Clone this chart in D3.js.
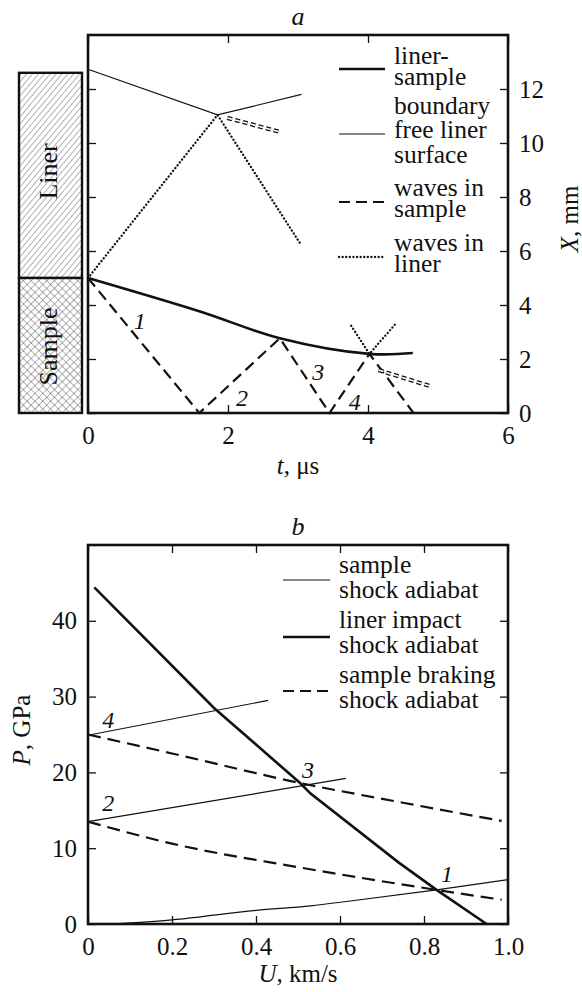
<!DOCTYPE html>
<html><head><meta charset="utf-8">
<script src="https://cdn.jsdelivr.net/npm/d3@7"></script>
<style>
body{margin:0;background:#fff;}
svg text{font-family:"Liberation Serif","Times New Roman",serif;}
</style></head>
<body><svg id="c" width="582" height="992"></svg>
<script>
// ---------- Panel a data (t, µs ; X, mm) ----------
const tTicks = [0, 2, 4, 6];
const xmmTicks = [0, 2, 4, 6, 8, 10, 12];
const boundaryLine = [[0,5],[1.6,3.76],[2.74,2.77],[4.02,2.19],[4.64,2.22]];
const freeSurface = [[0,12.73],[1.85,11.04],[3.05,11.8]];
const wavesSample = [[0,5],[1.59,0],[2.74,2.77],[3.45,0],[4.02,2.19],[4.65,0]];
const wavesLinerA = [[0,5],[1.85,11.04],[3.05,6.2]];
const wavesLinerB = [[3.76,3.23],[4.02,2.19],[4.39,3.29]];
const releaseA = [[1.99,10.93],[2.74,10.41]];
const releaseB = [[4.15,1.59],[4.88,1.0]];
const labelsA = [["1",0.74,3.44],["2",2.2,0.56],["3",3.29,1.52],["4",3.81,0.41]];
const blockLiner = [5, 12.6];
const blockSample = [0, 5];
const legendA = [
  {lines:["liner-","sample","boundary"], style:"thick"},
  {lines:["free liner","surface"], style:"thin"},
  {lines:["waves in","sample"], style:"dash"},
  {lines:["waves in","liner"], style:"dot"}
];
// ---------- Panel b data (U, km/s ; P, GPa) ----------
const uTicks = [0, 0.2, 0.4, 0.6, 0.8, 1.0];
const pTicks = [0, 10, 20, 30, 40];
const sampleAdiabat0 = [[0.06,0],[0.2,0.55],[0.4,1.8],[0.53,2.4],[0.62,3.0],[0.83,4.5],[1.0,5.85]];
const sampleAdiabat2 = [[0,13.5],[0.614,19.2]];
const sampleAdiabat4 = [[0,24.9],[0.429,29.5]];
const linerAdiabat = [[0.015,44.4],[0.3,28.5],[0.505,18.6],[0.53,17.2],[0.74,8.1],[0.83,4.5],[0.949,0]];
const brakingAdiabat1 = [[0,13.5],[0.2,10.6],[0.5,7.5],[0.83,4.5],[0.985,3.2]];
const brakingAdiabat2 = [[0,25],[0.2,22.5],[0.505,18.6],[0.75,16.0],[0.985,13.6]];
const labelsB = [["4",0.048,26.9],["2",0.048,16.0],["3",0.524,20.4],["1",0.855,6.7]];
const legendB = [
  {lines:["sample","shock adiabat"], style:"thin"},
  {lines:["liner impact","shock adiabat"], style:"thick"},
  {lines:["sample braking","shock adiabat"], style:"dash"}
];

const svg = d3.select("#c");
const FS = 25;
const styles = {
  thick:{w:2.6, dash:null},
  thin:{w:1.2, dash:null},
  dash:{w:2.2, dash:"11,6"},
  dot:{w:2.3, dash:"0.1,3.5"}
};
function applyStyle(sel, st){
  const s = styles[st];
  sel.attr("fill","none").attr("stroke","#111").attr("stroke-width",s.w);
  if (s.dash) sel.attr("stroke-dasharray", s.dash);
  if (st==="dot") sel.attr("stroke-linecap","round");
  return sel;
}

const defs = svg.append("defs");
const ph = defs.append("pattern").attr("id","hatch").attr("patternUnits","userSpaceOnUse")
  .attr("width",4.5).attr("height",4.5).attr("patternTransform","rotate(40)");
ph.append("rect").attr("width",4.5).attr("height",4.5).attr("fill","#fff");
ph.append("line").attr("x1",0).attr("y1",0).attr("x2",0).attr("y2",4.5).attr("stroke","#555").attr("stroke-width",0.9);
const px = defs.append("pattern").attr("id","cross").attr("patternUnits","userSpaceOnUse")
  .attr("width",5.5).attr("height",5.5).attr("patternTransform","rotate(45)");
px.append("rect").attr("width",5.5).attr("height",5.5).attr("fill","#fff");
px.append("line").attr("x1",0).attr("y1",0).attr("x2",0).attr("y2",5.5).attr("stroke","#555").attr("stroke-width",0.9);
px.append("line").attr("x1",0).attr("y1",0).attr("x2",5.5).attr("y2",0).attr("stroke","#555").attr("stroke-width",0.9);

function frame(g, x, y, xt, yt, opts){
  const [x0,x1] = x.range(), [y0,y1] = y.range();
  const tk = 8;
  const ab = d3.axisBottom(x).tickValues(xt).tickSize(-tk).tickPadding(13).tickFormat(opts.xfmt);
  g.append("g").attr("transform",`translate(0,${y0})`).call(ab);
  const at = d3.axisTop(x).tickValues(xt).tickSize(-tk).tickFormat("");
  g.append("g").attr("transform",`translate(0,${y1})`).call(at);
  const al = d3.axisLeft(y).tickValues(yt).tickSize(-tk).tickPadding(11).tickFormat(opts.leftLabels?opts.yfmt:"");
  g.append("g").attr("transform",`translate(${x0},0)`).call(al);
  const ar = d3.axisRight(y).tickValues(yt).tickSize(-tk).tickPadding(11).tickFormat(opts.leftLabels?"":opts.yfmt);
  g.append("g").attr("transform",`translate(${x1},0)`).call(ar);
  g.selectAll(".domain").remove();
  g.selectAll(".tick line").attr("stroke","#111").attr("stroke-width",1.3);
  g.selectAll(".tick text").attr("font-size",FS).attr("fill","#111");
  g.append("rect").attr("x",x0).attr("y",y1).attr("width",x1-x0).attr("height",y0-y1)
    .attr("fill","none").attr("stroke","#111").attr("stroke-width",2.6);
}
const line = (x,y) => d3.line().x(d=>x(d[0])).y(d=>y(d[1]));
const smooth = (x,y) => d3.line().curve(d3.curveMonotoneX).x(d=>x(d[0])).y(d=>y(d[1]));
const spline = (x,y) => d3.line().curve(d3.curveCatmullRom.alpha(0.5)).x(d=>x(d[0])).y(d=>y(d[1]));

// ================= Panel a =================
const xa = d3.scaleLinear().domain([0,6]).range([88,508]);
const ya = d3.scaleLinear().domain([0,14]).range([413,35]);
const ga = svg.append("g");

ga.append("rect").attr("x",19).attr("y",ya(blockLiner[1])).attr("width",63).attr("height",ya(blockLiner[0])-ya(blockLiner[1]))
  .attr("fill","url(#hatch)").attr("stroke","#111").attr("stroke-width",2.4);
ga.append("rect").attr("x",19).attr("y",ya(blockSample[1])).attr("width",63).attr("height",ya(blockSample[0])-ya(blockSample[1]))
  .attr("fill","url(#cross)").attr("stroke","#111").attr("stroke-width",2.4);
ga.append("text").attr("transform",`translate(57,${(ya(blockLiner[0])+ya(blockLiner[1]))/2 - 4}) rotate(-90)`)
  .attr("text-anchor","middle").attr("font-size",26).attr("fill","#111").text("Liner");
ga.append("text").attr("transform",`translate(57,${(ya(blockSample[0])+ya(blockSample[1]))/2+1}) rotate(-90)`)
  .attr("text-anchor","middle").attr("font-size",26).attr("fill","#111").text("Sample");

frame(ga, xa, ya, tTicks, xmmTicks, {xfmt:d3.format("d"), yfmt:d3.format("d"), leftLabels:false});

applyStyle(ga.append("path").attr("d", line(xa,ya)(freeSurface)), "thin");
applyStyle(ga.append("path").attr("d", line(xa,ya)(wavesLinerA)), "dot");
applyStyle(ga.append("path").attr("d", line(xa,ya)(wavesLinerB)), "dot");
applyStyle(ga.append("path").attr("d", line(xa,ya)(wavesSample)), "dash");
applyStyle(ga.append("path").attr("d", spline(xa,ya)(boundaryLine)), "thick");
[releaseA, releaseB].forEach(r=>{
  ga.append("path").attr("d", line(xa,ya)(r)).attr("stroke","#111").attr("stroke-width",4.2).attr("stroke-dasharray","5,3").attr("fill","none");
  ga.append("path").attr("d", line(xa,ya)(r)).attr("stroke","#fff").attr("stroke-width",1.6).attr("stroke-dasharray","5,3").attr("fill","none");
});
labelsA.forEach(l=>{
  ga.append("text").attr("x",xa(l[1])).attr("y",ya(l[2])).attr("dy","0.35em").attr("text-anchor","middle")
    .attr("font-size",24).attr("font-style","italic").attr("fill","#111").text(l[0]);
});
const legAY = [64, 138, 196, 251];
const legALineY = [69, 134, 202, 257];
const legASpacing = [[0,21,50],[0,25],[0,21],[0,21]];
legendA.forEach((it,i)=>{
  applyStyle(ga.append("line").attr("x1",339).attr("x2",385).attr("y1",legALineY[i]).attr("y2",legALineY[i]), it.style);
  it.lines.forEach((t,j)=>{
    ga.append("text").attr("x",394).attr("y",legAY[i]+legASpacing[i][j]).attr("font-size",25.5).attr("fill","#111").text(t);
  });
});
ga.append("text").attr("x",298).attr("y",25).attr("text-anchor","middle").attr("font-size",26).attr("font-style","italic").attr("fill","#111").text("a");
const tl = ga.append("text").attr("x",298).attr("y",474).attr("text-anchor","middle").attr("font-size",25).attr("fill","#111");
tl.append("tspan").attr("font-style","italic").text("t");
tl.append("tspan").text(", μs");
const xl = ga.append("text").attr("transform","translate(578,219) rotate(-90)").attr("text-anchor","middle").attr("font-size",25).attr("fill","#111");
xl.append("tspan").attr("font-style","italic").text("X");
xl.append("tspan").text(", mm");

// ================= Panel b =================
const xb = d3.scaleLinear().domain([0,1]).range([88,508]);
const yb = d3.scaleLinear().domain([0,50]).range([924,545]);
const gb = svg.append("g");
frame(gb, xb, yb, uTicks, pTicks, {xfmt:d=> d===0?"0":d3.format(".1f")(d), yfmt:d3.format("d"), leftLabels:true});
applyStyle(gb.append("path").attr("d", smooth(xb,yb)(sampleAdiabat0)), "thin");
applyStyle(gb.append("path").attr("d", line(xb,yb)(sampleAdiabat2)), "thin");
applyStyle(gb.append("path").attr("d", line(xb,yb)(sampleAdiabat4)), "thin");
applyStyle(gb.append("path").attr("d", smooth(xb,yb)(brakingAdiabat1)), "dash").attr("stroke-dasharray","13,7");
applyStyle(gb.append("path").attr("d", smooth(xb,yb)(brakingAdiabat2)), "dash").attr("stroke-dasharray","13,7");
applyStyle(gb.append("path").attr("d", line(xb,yb)(linerAdiabat)), "thick");
labelsB.forEach(l=>{
  gb.append("text").attr("x",xb(l[1])).attr("y",yb(l[2])).attr("dy","0.35em").attr("text-anchor","middle")
    .attr("font-size",24).attr("font-style","italic").attr("fill","#111").text(l[0]);
});
const legBY = [573, 628, 683];
const legBLineY = [580, 637, 691];
legendB.forEach((it,i)=>{
  applyStyle(gb.append("line").attr("x1",283).attr("x2",330).attr("y1",legBLineY[i]).attr("y2",legBLineY[i]), it.style);
  it.lines.forEach((t,j)=>{
    gb.append("text").attr("x",339).attr("y",legBY[i]+j*25).attr("font-size",25.5).attr("fill","#111").text(t);
  });
});
gb.append("text").attr("x",298).attr("y",535).attr("text-anchor","middle").attr("font-size",26).attr("font-style","italic").attr("fill","#111").text("b");
const ul = gb.append("text").attr("x",298).attr("y",982).attr("text-anchor","middle").attr("font-size",25).attr("fill","#111");
ul.append("tspan").attr("font-style","italic").text("U");
ul.append("tspan").text(", km/s");
const pl = gb.append("text").attr("transform","translate(30,730) rotate(-90)").attr("text-anchor","middle").attr("font-size",25).attr("fill","#111");
pl.append("tspan").attr("font-style","italic").text("P");
pl.append("tspan").text(", GPa");
</script></body></html>
